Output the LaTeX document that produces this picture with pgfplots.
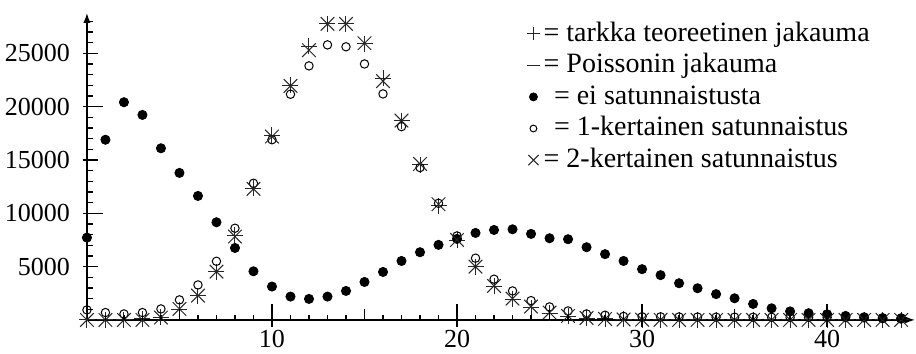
\documentclass[border=0pt]{standalone}
\usepackage{fontspec}
\setmainfont{Liberation Serif}
\usepackage{pgfplots}
\pgfplotsset{compat=1.18}
\usetikzlibrary{arrows.meta,calc}

\pgfplotstableread{
x exact
0 0
1 3
2 20
3 95
4 260
5 970
6 2270
7 4540
8 7940
9 12360
10 17300
11 22020
12 25690
13 27770
14 27770
15 25900
16 22650
17 18700
18 14550
19 10700
20 7480
21 4990
22 3180
23 1940
24 1130
25 640
26 345
27 178
28 89
29 43
30 20
31 9
32 4
33 2
34 1
35 0
36 0
37 0
38 0
39 0
40 0
41 0
42 0
43 0
44 0
}\theory

\pgfplotstableread{
x y
0 7720
1 16900
2 20420
3 19230
4 16100
5 13790
6 11630
7 9160
8 6750
9 4560
10 3130
11 2190
12 1970
13 2190
14 2720
15 3560
16 4500
17 5530
18 6350
19 7040
20 7600
21 8160
22 8440
23 8500
24 8070
25 7660
26 7570
27 6820
28 6170
29 5530
30 4760
31 4200
32 3440
33 2970
34 2420
35 2030
36 1500
37 1090
38 800
39 630
40 530
41 375
42 250
43 155
44 110
}\nonrand

\pgfplotstableread{
x y
0 940
1 690
2 560
3 690
4 1030
5 1880
6 3280
7 5500
8 8600
9 12820
10 16900
11 21170
12 23830
13 25800
14 25620
15 24010
16 21200
17 18130
18 14290
19 10940
20 7880
21 5790
22 3820
23 2720
24 1810
25 1220
26 840
27 560
28 440
29 330
30 300
31 290
32 280
33 270
34 260
35 260
36 250
37 250
38 240
39 230
40 220
41 210
42 200
43 200
44 190
}\onerand

\pgfplotstableread{
x y
0 0
1 0
2 0
3 0
4 220
5 1030
6 2280
7 4530
8 7820
9 12290
10 17200
11 21950
12 25300
13 27770
14 27770
15 25950
16 22400
17 18700
18 14630
19 10850
20 7500
21 5000
22 3190
23 2000
24 1250
25 690
26 375
27 180
28 90
29 40
30 20
31 10
32 0
33 0
34 0
35 0
36 0
37 0
38 0
39 0
40 0
41 0
42 0
43 0
44 0
}\tworand

\begin{document}
\begin{tikzpicture}
\begin{axis}[
  scale only axis, width=414pt, height=153.5pt,
  xmin=0, xmax=44.75, ymin=0, ymax=28800,
  axis lines=middle,
  axis line style={line width=0.7pt, -{Latex[length=5pt,width=3.6pt]}},
  scaled ticks=false,
  xtick={10,20,30,40}, xticklabels={10,20,30,40},
  ytick={5000,10000,15000,20000,25000},
  yticklabels={5000,10000,15000,20000,25000},
  major tick length=0pt, minor tick length=0pt,
  ticklabel style={font=\fontsize{13}{15}\selectfont},
  xticklabel style={yshift=-1.5pt},
  yticklabel style={xshift=-5pt},
  clip=false,
  legend image code/.code={\draw[#1] plot[only marks] coordinates {(0pt,0pt)};},
  legend style={at={(rel axis cs:0.531,0.985)}, anchor=north west,
    draw=none, fill=none, font=\fontsize{14}{15}\selectfont,
    row sep=0pt, inner sep=0pt,
    nodes={inner sep=0.6pt, text height=11pt, text depth=3.6pt}},
  legend cell align=left,
]
\addplot[only marks, mark=+, mark size=4pt, black!85, line width=0.5pt,
  legend image post style={mark size=3.2pt}] table[x=x, y=exact] {\theory};
\addlegendentry{\hspace{1.3pt}= tarkka teoreetinen jakauma}
\addplot[only marks, mark=-, mark size=4pt, black!85, line width=0.5pt,
  legend image post style={mark size=3.2pt}] table[x=x, y=exact] {\theory};
\addlegendentry{\hspace{1.3pt}= Poissonin jakauma}
\addplot[only marks, mark=*, mark size=2.3pt, black,
  legend image post style={mark size=2pt}] table[x=x, y=y] {\nonrand};
\addlegendentry{\hspace{6.5pt}= ei satunnaistusta}
\addplot[only marks, mark=o, mark size=2.1pt, black, line width=0.5pt,
  legend image post style={mark size=1.7pt}] table[x=x, y=y] {\onerand};
\addlegendentry{\hspace{6.5pt}= 1-kertainen satunnaistus}
\addplot[only marks, mark=x, mark size=4.8pt, black!85, line width=0.5pt,
  legend image post style={mark size=3.6pt}] table[x=x, y=y] {\tworand};
\addlegendentry{\hspace{1.3pt}= 2-kertainen satunnaistus}
\coordinate (O) at (axis cs:0,0);
\coordinate (X1) at (axis cs:1,0);
\coordinate (Y1) at (axis cs:0,1000);
\coordinate (bbsw) at (rel axis cs:-0.105,-0.1107);
\coordinate (bbne) at (rel axis cs:1.0012,1.042);
\end{axis}
% tick marks of the axes
\foreach \i in {1,...,44} {\draw[line width=0.7pt, black] ($(O)!\i!(X1)$) -- ++(0pt,2.7pt);}
\foreach \i in {5,15,25,35} {\draw[line width=0.7pt, black] ($(O)!\i!(X1)$) -- ++(0pt,5.5pt);}
\foreach \i in {10,20,30,40} {\draw[line width=0.7pt, black] ($(O)!\i!(X1)$) ++(0pt,-3.5pt) -- ++(0pt,11.5pt);}
\foreach \i in {1,...,28} {\draw[line width=0.7pt, black] ($(O)!\i!(Y1)$) -- ++(2.8pt,0pt);}
\foreach \i in {5,15,25} {\draw[line width=0.7pt, black] ($(O)!\i!(Y1)$) ++(-2pt,0pt) -- ++(7.5pt,0pt);}
\foreach \i in {10,20} {\draw[line width=0.7pt, black] ($(O)!\i!(Y1)$) ++(-2pt,0pt) -- ++(10pt,0pt);}
\pgfresetboundingbox
\path[use as bounding box] (bbsw) rectangle (bbne);
\end{tikzpicture}
\end{document}
